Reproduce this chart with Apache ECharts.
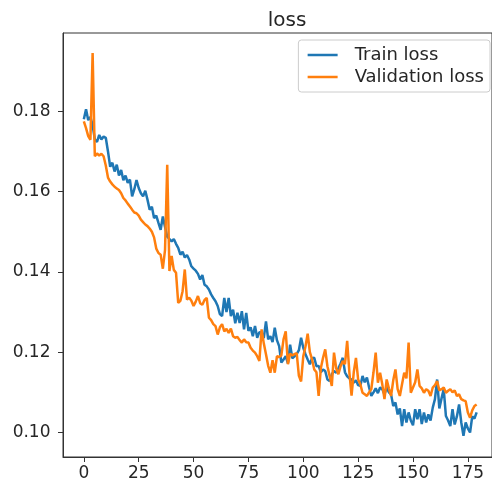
<!DOCTYPE html>
<html>
<head>
<meta charset="utf-8">
<script src="https://cdn.jsdelivr.net/npm/echarts@6/dist/echarts.min.js"></script>
<style>
html,body{margin:0;padding:0;background:#fff;}
#chart{width:492px;height:482px;}
</style>
</head>
<body>
<div id="chart"></div>
<script>
var chartTitle = 'loss';
var seriesNames = ['Train loss', 'Validation loss'];
var xTickValues = [0, 25, 50, 75, 100, 125, 150, 175];
var yTickValues = [0.10, 0.12, 0.14, 0.16, 0.18];

var trainLoss = [
  0.1780, 0.1805, 0.1778, 0.1786, 0.1765, 0.1730, 0.1724, 0.1741, 0.1730, 0.1737,
  0.1734, 0.1700, 0.1662, 0.1672, 0.1650, 0.1667, 0.1640, 0.1654, 0.1628, 0.1640,
  0.1622, 0.1630, 0.1588, 0.1606, 0.1629, 0.1609, 0.1596, 0.1588, 0.1602, 0.1580,
  0.1555, 0.1562, 0.1534, 0.1540, 0.1522, 0.1505, 0.1538, 0.1512, 0.1488, 0.1482,
  0.1476, 0.1482, 0.1470, 0.1460, 0.1443, 0.1450, 0.1436, 0.1442, 0.1431, 0.1414,
  0.1408, 0.1403, 0.1395, 0.1381, 0.1392, 0.1368, 0.1364, 0.1356, 0.1344, 0.1335,
  0.1327, 0.1315, 0.1295, 0.1290, 0.1335, 0.1300, 0.1335, 0.1290, 0.1306, 0.1272,
  0.1298, 0.1273, 0.1302, 0.1257, 0.1298, 0.1253, 0.1262, 0.1240, 0.1265, 0.1236,
  0.1250, 0.1249, 0.1235, 0.1277, 0.1232, 0.1240, 0.1225, 0.1261, 0.1230, 0.1215,
  0.1174, 0.1182, 0.1190, 0.1172, 0.1219, 0.1185, 0.1190, 0.1195, 0.1205, 0.1236,
  0.1211, 0.1195, 0.1182, 0.1170, 0.1185, 0.1186, 0.1165, 0.1166, 0.1150, 0.1157,
  0.1153, 0.1132, 0.1128, 0.1145, 0.1153, 0.1149, 0.1160, 0.1172, 0.1186, 0.1150,
  0.1140, 0.1135, 0.1132, 0.1124, 0.1130, 0.1118, 0.1116, 0.1141, 0.1125, 0.1137,
  0.1112, 0.1091, 0.1100, 0.1110, 0.1098, 0.1112, 0.1108, 0.1095, 0.1112, 0.1100,
  0.1095, 0.1066, 0.1075, 0.1045, 0.1060, 0.1016, 0.1058, 0.1025, 0.1050, 0.1030,
  0.1018, 0.1058, 0.1033, 0.1058, 0.1021, 0.1050, 0.1025, 0.1045, 0.1030, 0.1062,
  0.1083, 0.1132, 0.1060, 0.1085, 0.1108, 0.1041, 0.1030, 0.1016, 0.1058, 0.1020,
  0.1040, 0.1070, 0.1025, 0.0992, 0.1025, 0.1010, 0.1000, 0.1040, 0.1035, 0.1050
];

var validationLoss = [
  0.1775, 0.1758, 0.1738, 0.1729, 0.1945, 0.1688, 0.1695, 0.1690, 0.1694, 0.1688,
  0.1665, 0.1635, 0.1625, 0.1618, 0.1612, 0.1608, 0.1604, 0.1596, 0.1584, 0.1578,
  0.1570, 0.1563, 0.1555, 0.1548, 0.1546, 0.1540, 0.1530, 0.1524, 0.1518, 0.1514,
  0.1508, 0.1500, 0.1486, 0.1458, 0.1447, 0.1443, 0.1408, 0.1455, 0.1667, 0.1402,
  0.1440, 0.1405, 0.1398, 0.1323, 0.1328, 0.1352, 0.1406, 0.1331, 0.1336, 0.1328,
  0.1315, 0.1326, 0.1340, 0.1322, 0.1318, 0.1330, 0.1335, 0.1286, 0.1280, 0.1270,
  0.1265, 0.1244, 0.1262, 0.1270, 0.1252, 0.1258, 0.1248, 0.1259, 0.1240, 0.1236,
  0.1238, 0.1230, 0.1224, 0.1232, 0.1225, 0.1224, 0.1211, 0.1204, 0.1199, 0.1190,
  0.1178, 0.1257, 0.1222, 0.1195, 0.1166, 0.1149, 0.1180, 0.1149, 0.1190, 0.1188,
  0.1192, 0.1232, 0.1252, 0.1170, 0.1196, 0.1192, 0.1195, 0.1198, 0.1141, 0.1127,
  0.1190, 0.1214, 0.1246, 0.1200, 0.1182, 0.1157, 0.1150, 0.1091, 0.1160, 0.1186,
  0.1207, 0.1165, 0.1141, 0.1116, 0.1199, 0.1160, 0.1145, 0.1165, 0.1178, 0.1170,
  0.1228, 0.1150, 0.1092, 0.1150, 0.1186, 0.1132, 0.1120, 0.1099, 0.1095, 0.1091,
  0.1100, 0.1108, 0.1150, 0.1199, 0.1124, 0.1149, 0.1120, 0.1083, 0.1132, 0.1110,
  0.1091, 0.1130, 0.1157, 0.1108, 0.1091, 0.1120, 0.1149, 0.1135, 0.1224, 0.1099,
  0.1112, 0.1125, 0.1157, 0.1116, 0.1110, 0.1099, 0.1108, 0.1104, 0.1091, 0.1112,
  0.1118, 0.1128, 0.1105, 0.1108, 0.1112, 0.1099, 0.1104, 0.1108, 0.1100, 0.1105,
  0.1091, 0.1095, 0.1083, 0.1080, 0.1078, 0.1050, 0.1037, 0.1055, 0.1066, 0.1070
];

function toPairs(arr) {
  return arr.map(function (v, i) { return [i, v]; });
}

var chart = echarts.init(document.getElementById('chart'), null, {renderer: 'canvas'});
var font = 'DejaVu Sans';
var axisColor = '#333';
var textColor = '#262626';
var option = {
  animation: false,
  backgroundColor: '#fff',
  textStyle: {fontFamily: font},
  title: {
    text: chartTitle,
    left: 282,
    textAlign: 'center',
    top: 6,
    textStyle: {fontFamily: font, fontSize: 20, fontWeight: 'normal', color: textColor}
  },
  legend: {
    orient: 'vertical',
    right: 2,
    top: 40,
    itemWidth: 30,
    itemHeight: 14,
    itemGap: 4,
    padding: [6, 6, 6, 8],
    borderColor: '#ccc',
    borderWidth: 1,
    borderRadius: 3,
    backgroundColor: '#fff',
    itemStyle: {opacity: 0},
    lineStyle: {width: 2.5},
    textStyle: {fontFamily: font, fontSize: 18, color: textColor, padding: [0, 0, 0, 12]},
    data: seriesNames
  },
  grid: {
    left: 63,
    top: 33,
    right: -4.4,
    bottom: 24.3,
    show: true,
    borderColor: axisColor,
    borderWidth: 1,
    containLabel: false
  },
  xAxis: {
    type: 'value',
    min: -9.5,
    max: 186,
    splitLine: {show: false},
    axisLine: {show: true, onZero: false, lineStyle: {color: axisColor, width: 1}},
    axisTick: {show: true, inside: false, length: 5, customValues: xTickValues, lineStyle: {color: axisColor}},
    axisLabel: {customValues: xTickValues, fontFamily: font, fontSize: 17, color: textColor, margin: 8}
  },
  yAxis: {
    type: 'value',
    min: 0.0939,
    max: 0.1995,
    splitLine: {show: false},
    axisLine: {show: true, onZero: false, lineStyle: {color: axisColor, width: 1}},
    axisTick: {show: true, inside: false, length: 5, customValues: yTickValues, lineStyle: {color: axisColor}},
    axisLabel: {
      customValues: yTickValues, fontFamily: font, fontSize: 17, color: textColor, margin: 12.5,
      formatter: function (v) { return v.toFixed(2); }
    }
  },
  series: [
    {
      name: seriesNames[0],
      type: 'line',
      data: toPairs(trainLoss),
      symbol: 'none',
      showSymbol: false,
      lineStyle: {color: '#1f77b4', width: 2.5},
      itemStyle: {color: '#1f77b4'},
      z: 2
    },
    {
      name: seriesNames[1],
      type: 'line',
      data: toPairs(validationLoss),
      symbol: 'none',
      showSymbol: false,
      lineStyle: {color: '#ff7f0e', width: 2.5},
      itemStyle: {color: '#ff7f0e'},
      z: 3
    }
  ]
};
chart.setOption(option);
</script>
</body>
</html>
